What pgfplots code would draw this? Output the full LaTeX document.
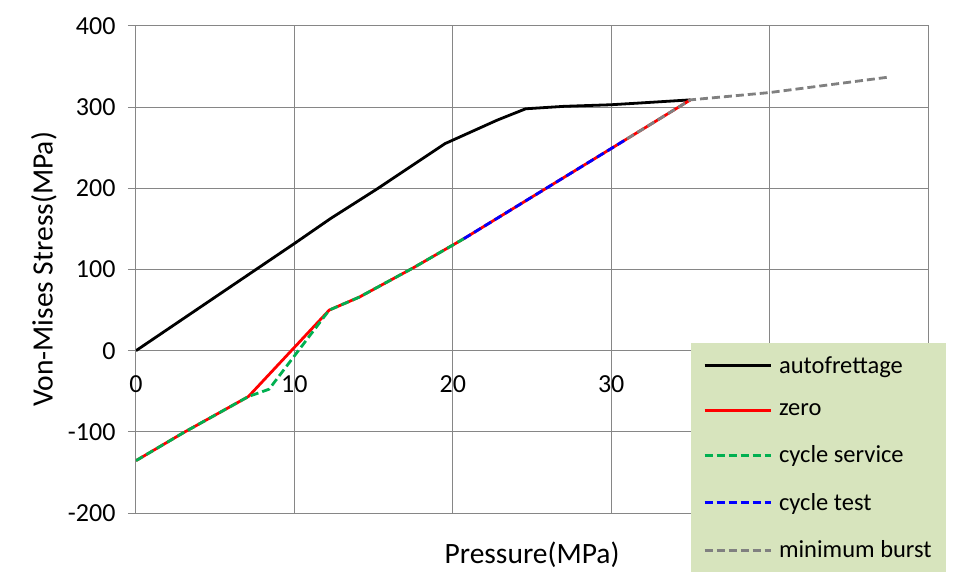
\documentclass[border=0pt]{standalone}
\usepackage{pgfplots}
\pgfplotsset{compat=1.18}
\usepackage{fontspec}
\setmainfont{Carlito}
\definecolor{gridc}{RGB}{134,134,134}
\definecolor{lg}{RGB}{215,228,189}
\definecolor{exgreen}{RGB}{0,176,80}
\definecolor{exblue}{RGB}{0,0,255}
\definecolor{exgray}{RGB}{128,128,128}
\begin{document}
\begin{tikzpicture}
\useasboundingbox (-136pt,-68pt) rectangle (817pt,513pt);
\begin{axis}[
 at={(0,0)}, anchor=south west,
 scale only axis, width=792pt, height=487pt,
 xmin=0, xmax=50, ymin=-200, ymax=400,
 xtick={0,10,...,50}, ytick={-200,-100,...,400},
 grid=major, grid style={gridc, line width=1pt},
 axis line style={gridc, line width=1pt},
 tick align=outside, major tick length=8pt,
 ytick pos=left, xtick style={draw=none}, ytick style={gridc, line width=1pt},
 /pgf/number format/assume math mode=true,
 tick label style={font=\fontsize{26}{31}\selectfont},
 xticklabel style={anchor=center, yshift=137pt},
 yticklabel style={xshift=-9pt},
 xlabel={Pressure(MPa)}, ylabel={Von-Mises Stress(MPa)},
 every axis x label/.style={at={(axis description cs:0.5,-0.0862)}, anchor=center, font=\fontsize{29.5}{34}\selectfont},
 every axis y label/.style={at={(axis description cs:-0.1162,0.5)}, anchor=center, rotate=90, font=\fontsize{29.5}{34}\selectfont},
 legend cell align=left,
 legend style={at={(0.7008,0.349)}, anchor=north west, fill=lg, draw=none,
   font=\fontsize{24.5}{29}\selectfont, inner xsep=12pt, inner ysep=11pt, row sep=25pt,
   /tikz/every odd column/.append style={column sep=5pt}},
 legend image code/.code={\draw[#1] (0pt,0pt) -- (66pt,0pt);},
]
\addplot[black, line width=2.8pt] coordinates {
 (0,0) (10,132) (12.3,163) (15.2,199) (19.5,255) (22.8,284) (24.6,298) (27,301) (30,303) (31.7,305) (35,309)};
\addlegendentry{autofrettage}
\addplot[red, line width=2.8pt] coordinates {
 (0,-135.5) (3,-101) (7.1,-56.5) (12.2,50) (14.1,66) (17.5,102) (20.7,138) (31,261) (35,309)};
\addlegendentry{zero}
\addplot[exgreen, line width=2.8pt, dash pattern=on 8pt off 4pt] coordinates {
 (0,-135.5) (3,-101) (7.1,-56.5) (8.4,-47.5) (12.2,50) (14.1,66) (17.5,102) (20.7,138)};
\addlegendentry{cycle service}
\addplot[exblue, line width=2.8pt, dash pattern=on 8pt off 4pt] coordinates {
 (20.7,138) (31,261)};
\addlegendentry{cycle test}
\addplot[exgray, line width=2.8pt, dash pattern=on 8pt off 4pt] coordinates {
 (31,261) (35,309) (40,318) (47.5,337)};
\addlegendentry{minimum burst}
\end{axis}
\end{tikzpicture}
\end{document}
